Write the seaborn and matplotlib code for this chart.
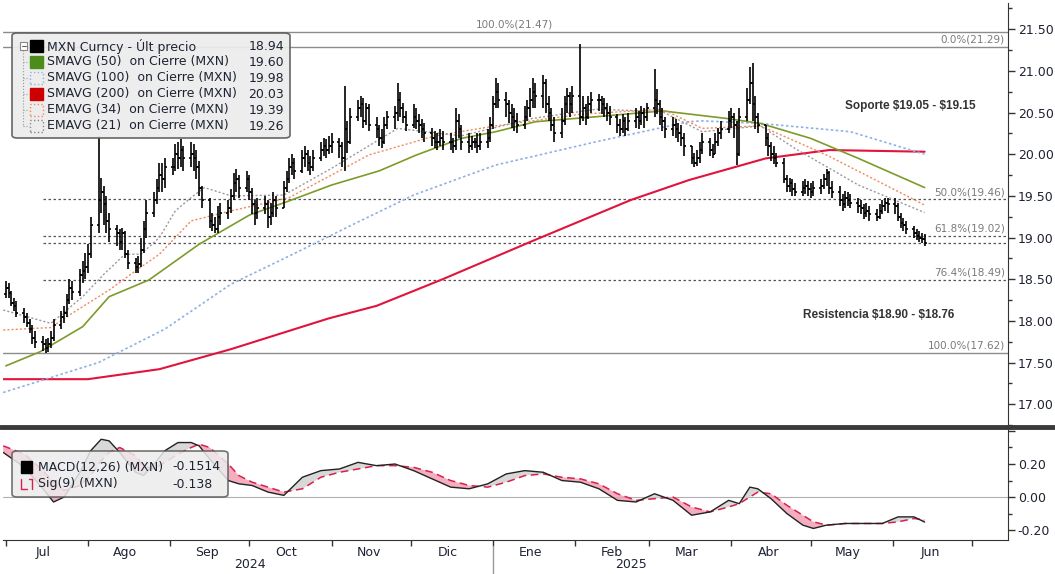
import numpy as np
import pandas as pd
import matplotlib
matplotlib.use("Agg")
import matplotlib.pyplot as plt
import matplotlib.dates as mdates
import matplotlib.transforms as mtransforms
from matplotlib.patches import FancyBboxPatch, Rectangle
from matplotlib.lines import Line2D
import seaborn as sns

# ---------------- datos ----------------
# USD/MXN diario, 1-jul-2024 a 13-jun-2025 (dias habiles)
first_open = 18.32
closes = [
    18.40, 18.33, 18.22, 18.18, 18.10,  18.05, 17.98, 17.90, 17.80, 17.75,
    17.72, 17.68, 17.72, 17.80, 17.95,  18.05, 18.10, 18.25, 18.40, 18.35,
    18.55, 18.60, 18.65, 18.80, 19.15,  19.45, 19.55, 19.40, 19.20, 19.10,
    19.05, 18.95, 19.05, 18.80, 18.70,  18.65, 18.68, 18.85, 19.10, 19.30,
    19.45, 19.60, 19.75, 19.70, 19.85,  19.85, 20.00, 19.95, 20.05, 19.95,
    20.00, 19.95, 19.85, 19.60, 19.45,  19.20, 19.15, 19.10, 19.25, 19.30,
    19.35, 19.50, 19.65, 19.70, 19.60,  19.70, 19.55, 19.40, 19.30, 19.35,
    19.40, 19.25, 19.30, 19.45, 19.35,  19.60, 19.70, 19.85, 19.90, 19.80,
    19.95, 20.00, 19.90, 19.85, 19.95,  20.05, 20.10, 20.05, 20.10, 20.15,
    20.10, 19.95, 20.30, 20.15, 20.45,  20.55, 20.60, 20.40, 20.55, 20.35,
    20.30, 20.20, 20.15, 20.35, 20.45,  20.50, 20.65, 20.55, 20.45, 20.35,
    20.45, 20.40, 20.35, 20.30, 20.25,  20.20, 20.15, 20.15, 20.20, 20.15,
    20.15, 20.10, 20.40, 20.30, 20.15,  20.10, 20.15, 20.15, 20.10, 20.15,
    20.20, 20.35, 20.60, 20.75, 20.65,  20.60, 20.50, 20.45, 20.40, 20.35,
    20.45, 20.55, 20.65, 20.75, 20.70,  20.85, 20.60, 20.50, 20.35, 20.25,
    20.40, 20.60, 20.70, 20.60, 20.70,  20.45, 20.55, 20.45, 20.60, 20.65,
    20.65, 20.60, 20.55, 20.50, 20.45,  20.35, 20.30, 20.40, 20.30, 20.40,
    20.45, 20.40, 20.50, 20.45, 20.55,  20.65, 20.60, 20.45, 20.40, 20.30,
    20.35, 20.30, 20.25, 20.20, 20.10,  19.95, 19.90, 19.95, 20.05, 20.15,
    20.05, 20.00, 20.15, 20.25, 20.30,  20.40, 20.45, 20.35, 20.00, 20.45,
    20.65, 20.85, 20.60, 20.45, 20.35,  20.20, 20.10, 20.00, 19.95, 19.90,
    19.70, 19.62, 19.65, 19.58, 19.55,  19.60, 19.62, 19.58, 19.55, 19.60,
    19.62, 19.70, 19.78, 19.60, 19.55,  19.45, 19.40, 19.48, 19.45, 19.42,
    19.38, 19.35, 19.30, 19.32, 19.28,  19.25, 19.32, 19.38, 19.42, 19.40,
    19.38, 19.25, 19.18, 19.15, 19.10,  19.05, 19.02, 19.00, 18.98, 18.94,
]
highs = [
    18.48, 18.45, 18.36, 18.27, 18.24,  18.15, 18.10, 18.02, 17.95, 17.88,
    17.82, 17.78, 17.80, 17.88, 18.02,  18.12, 18.18, 18.32, 18.50, 18.48,
    18.62, 18.72, 18.82, 18.92, 19.25,  20.22, 19.72, 19.62, 19.50, 19.30,
    19.15, 19.10, 19.12, 19.08, 18.85,  18.75, 18.78, 19.00, 19.20, 19.45,
    19.55, 19.70, 19.90, 19.90, 19.95,  19.95, 20.12, 20.15, 20.18, 20.10,
    20.15, 20.12, 20.05, 19.92, 19.62,  19.48, 19.30, 19.25, 19.38, 19.42,
    19.45, 19.58, 19.78, 19.82, 19.75,  19.80, 19.75, 19.60, 19.45, 19.48,
    19.50, 19.45, 19.42, 19.55, 19.50,  19.68, 19.80, 19.95, 20.00, 19.95,
    20.05, 20.10, 20.05, 19.98, 20.05,  20.15, 20.20, 20.18, 20.22, 20.25,
    20.20, 20.15, 20.82, 20.40, 20.55,  20.65, 20.70, 20.68, 20.62, 20.60,
    20.45, 20.35, 20.30, 20.45, 20.52,  20.58, 20.85, 20.75, 20.62, 20.52,
    20.60, 20.55, 20.48, 20.42, 20.38,  20.32, 20.28, 20.25, 20.30, 20.28,
    20.25, 20.20, 20.55, 20.48, 20.35,  20.25, 20.22, 20.20, 20.25, 20.25,
    20.30, 20.45, 20.70, 20.92, 20.85,  20.75, 20.65, 20.60, 20.55, 20.50,
    20.58, 20.65, 20.80, 20.92, 20.85,  20.95, 20.90, 20.70, 20.55, 20.45,
    20.55, 20.70, 20.80, 20.75, 20.82,  21.32, 20.70, 20.60, 20.70, 20.75,
    20.72, 20.70, 20.68, 20.62, 20.58,  20.48, 20.42, 20.48, 20.45, 20.50,
    20.55, 20.52, 20.58, 20.56, 20.62,  21.02, 20.78, 20.65, 20.55, 20.45,
    20.45, 20.42, 20.38, 20.35, 20.25,  20.10, 20.02, 20.05, 20.15, 20.25,
    20.20, 20.12, 20.25, 20.32, 20.40,  20.52, 20.55, 20.50, 20.40, 20.55,
    20.80, 21.05, 21.10, 20.70, 20.50,  20.35, 20.25, 20.15, 20.10, 20.02,
    19.95, 19.75, 19.72, 19.70, 19.65,  19.68, 19.70, 19.68, 19.65, 19.68,
    19.70, 19.76, 19.82, 19.80, 19.68,  19.62, 19.52, 19.56, 19.55, 19.52,
    19.48, 19.45, 19.40, 19.42, 19.38,  19.34, 19.40, 19.45, 19.48, 19.47,
    19.47, 19.42, 19.30, 19.24, 19.20,  19.14, 19.10, 19.08, 19.06, 19.04,
]
lows = [
    18.28, 18.27, 18.18, 18.12, 18.05,  17.98, 17.93, 17.85, 17.72, 17.68,
    17.64, 17.62, 17.63, 17.68, 17.76,  17.90, 17.98, 18.05, 18.20, 18.25,
    18.30, 18.45, 18.50, 18.58, 18.75,  19.05, 19.30, 19.15, 19.05, 18.95,
    18.90, 18.85, 18.85, 18.75, 18.62,  18.58, 18.58, 18.65, 18.82, 19.00,
    19.25, 19.40, 19.55, 19.55, 19.60,  19.75, 19.80, 19.82, 19.85, 19.80,
    19.85, 19.80, 19.70, 19.50, 19.35,  19.12, 19.08, 19.05, 19.05, 19.15,
    19.22, 19.30, 19.45, 19.55, 19.48,  19.55, 19.45, 19.28, 19.15, 19.22,
    19.28, 19.12, 19.15, 19.25, 19.25,  19.35, 19.55, 19.65, 19.75, 19.70,
    19.78, 19.85, 19.80, 19.75, 19.80,  19.92, 19.98, 19.95, 20.00, 20.02,
    19.95, 19.85, 19.80, 20.02, 20.12,  20.40, 20.45, 20.32, 20.35, 20.28,
    20.20, 20.10, 20.08, 20.12, 20.30,  20.30, 20.40, 20.45, 20.38, 20.28,
    20.32, 20.30, 20.25, 20.20, 20.15,  20.10, 20.08, 20.05, 20.10, 20.05,
    20.05, 20.02, 20.05, 20.20, 20.05,  20.02, 20.05, 20.08, 20.02, 20.05,
    20.08, 20.15, 20.30, 20.55, 20.55,  20.45, 20.38, 20.32, 20.28, 20.25,
    20.30, 20.40, 20.45, 20.55, 20.55,  20.55, 20.50, 20.40, 20.28, 20.15,
    20.20, 20.35, 20.50, 20.45, 20.50,  20.35, 20.40, 20.35, 20.42, 20.50,
    20.52, 20.48, 20.45, 20.40, 20.35,  20.25, 20.22, 20.25, 20.22, 20.28,
    20.32, 20.30, 20.35, 20.32, 20.40,  20.45, 20.48, 20.35, 20.28, 20.20,
    20.22, 20.20, 20.15, 20.10, 19.98,  19.88, 19.85, 19.86, 19.90, 20.00,
    19.98, 19.95, 20.00, 20.10, 20.18,  20.25, 20.32, 20.20, 19.87, 19.98,
    20.40, 20.60, 20.40, 20.30, 20.25,  20.10, 19.98, 19.92, 19.88, 19.85,
    19.65, 19.55, 19.55, 19.50, 19.50,  19.50, 19.52, 19.50, 19.48, 19.50,
    19.52, 19.58, 19.62, 19.52, 19.48,  19.38, 19.32, 19.36, 19.38, 19.35,
    19.30, 19.28, 19.22, 19.25, 19.20,  19.20, 19.22, 19.28, 19.32, 19.30,
    19.28, 19.20, 19.12, 19.08, 19.04,  18.99, 18.97, 18.95, 18.93, 18.90,
]

sma50_dates = ["2024-07-01", "2024-07-14", "2024-07-30", "2024-08-09", "2024-08-18", "2024-08-24",
               "2024-09-12", "2024-10-01", "2024-10-16", "2024-11-01", "2024-11-19", "2024-12-03",
               "2024-12-20", "2025-01-02", "2025-01-17", "2025-02-09", "2025-03-06", "2025-03-30",
               "2025-04-12", "2025-05-01", "2025-05-19", "2025-06-13"]
sma50 = [17.46, 17.63, 17.93, 18.29, 18.41, 18.49, 18.92, 19.27, 19.44, 19.63, 19.80, 19.99,
         20.19, 20.27, 20.39, 20.45, 20.52, 20.43, 20.37, 20.19, 19.95, 19.60]

sma100_dates = ["2024-06-30", "2024-08-05", "2024-08-30", "2024-09-24", "2024-10-20", "2024-11-08",
                "2024-12-02", "2025-01-02", "2025-02-09", "2025-03-16", "2025-03-21", "2025-04-12",
                "2025-05-16", "2025-06-13"]
sma100 = [17.14, 17.50, 17.90, 18.44, 18.84, 19.14, 19.51, 19.87, 20.15, 20.39, 20.40, 20.37,
          20.27, 20.00]

sma200_dates = ["2024-06-30", "2024-08-01", "2024-08-28", "2024-09-24", "2024-10-14", "2024-10-31",
                "2024-11-18", "2024-12-13", "2025-01-16", "2025-02-22", "2025-03-16", "2025-04-14",
                "2025-05-08", "2025-06-13"]
sma200 = [17.30, 17.30, 17.42, 17.66, 17.86, 18.03, 18.18, 18.50, 18.96, 19.45, 19.69, 19.95,
          20.05, 20.03]

ema34_dates = ["2024-06-30", "2024-07-18", "2024-07-26", "2024-08-09", "2024-08-19", "2024-08-28",
               "2024-09-09", "2024-09-24", "2024-10-08", "2024-10-16", "2024-11-01", "2024-11-15",
               "2024-12-10", "2025-01-02", "2025-02-03", "2025-03-06", "2025-03-21", "2025-04-12",
               "2025-05-07", "2025-06-13"]
ema34 = [17.89, 17.92, 18.09, 18.37, 18.60, 18.80, 19.20, 19.32, 19.42, 19.48, 19.75, 19.99,
         20.22, 20.34, 20.48, 20.54, 20.31, 20.34, 19.99, 19.39]

ema21_dates = ["2024-06-30", "2024-07-18", "2024-07-30", "2024-08-07", "2024-08-15", "2024-08-21",
               "2024-08-28", "2024-09-03", "2024-09-09", "2024-09-14", "2024-09-24", "2024-10-14",
               "2024-11-01", "2024-11-26", "2024-12-20", "2025-01-16", "2025-02-09", "2025-03-06",
               "2025-03-21", "2025-04-12", "2025-04-25", "2025-05-19", "2025-06-13"]
ema21 = [18.13, 17.97, 18.29, 18.56, 18.80, 18.80, 19.00, 19.32, 19.48, 19.60, 19.50, 19.51,
         19.83, 20.31, 20.22, 20.43, 20.54, 20.51, 20.27, 20.34, 20.07, 19.63, 19.30]

# MACD(12,26) y senal(9)
macd_dates = ["2024-06-30", "2024-07-08", "2024-07-15", "2024-07-19", "2024-07-23", "2024-07-29",
              "2024-08-02", "2024-08-06", "2024-08-09", "2024-08-13", "2024-08-19", "2024-08-22",
              "2024-08-26", "2024-08-30", "2024-09-04", "2024-09-09", "2024-09-12", "2024-09-16",
              "2024-09-23", "2024-09-27", "2024-10-02", "2024-10-08", "2024-10-14", "2024-10-21",
              "2024-10-28", "2024-11-04", "2024-11-11", "2024-11-18", "2024-11-25", "2024-12-02",
              "2024-12-09", "2024-12-16", "2024-12-23", "2024-12-30", "2025-01-06", "2025-01-13",
              "2025-01-20", "2025-01-27", "2025-02-03", "2025-02-10", "2025-02-17", "2025-02-24",
              "2025-03-03", "2025-03-10", "2025-03-17", "2025-03-24", "2025-03-31", "2025-04-04",
              "2025-04-08", "2025-04-11", "2025-04-16", "2025-04-22", "2025-04-28", "2025-05-02",
              "2025-05-07", "2025-05-14", "2025-05-21", "2025-05-28", "2025-06-03", "2025-06-09",
              "2025-06-13"]
macd = [0.27, 0.18, 0.05, -0.03, 0.00, 0.15, 0.28, 0.35, 0.34, 0.27, 0.15, 0.13,
        0.20, 0.28, 0.33, 0.33, 0.31, 0.23, 0.10, 0.08, 0.07, 0.03, 0.01, 0.12,
        0.16, 0.17, 0.21, 0.19, 0.20, 0.16, 0.11, 0.06, 0.05, 0.08, 0.14, 0.16,
        0.15, 0.10, 0.09, 0.05, -0.02, -0.03, 0.02, -0.02, -0.11, -0.09, -0.02, -0.04,
        0.06, 0.05, -0.01, -0.10, -0.17, -0.19, -0.17, -0.16, -0.16, -0.16, -0.12, -0.12,
        -0.1514]
macd_signal = [0.31, 0.26, 0.16, 0.09, 0.04, 0.07, 0.13, 0.22, 0.27, 0.30, 0.25, 0.19,
               0.17, 0.21, 0.26, 0.30, 0.32, 0.30, 0.20, 0.13, 0.09, 0.06, 0.03, 0.05,
               0.12, 0.15, 0.17, 0.19, 0.19, 0.18, 0.15, 0.10, 0.07, 0.06, 0.09, 0.13,
               0.14, 0.12, 0.11, 0.08, 0.02, -0.02, -0.01, 0.00, -0.06, -0.09, -0.06, -0.04,
               0.00, 0.03, 0.02, -0.05, -0.11, -0.15, -0.17, -0.16, -0.16, -0.16, -0.15, -0.13,
               -0.138]

# niveles de Fibonacci
fib_solid_levels = [21.47, 21.29, 17.62]
fib_dotted_levels = [19.46, 19.02, 18.49]
last_price = 18.94
fib_start = "2024-07-15"
fib_right_labels = {21.29: "0.0%(21.29)", 19.46: "50.0%(19.46)", 19.02: "61.8%(19.02)",
                    18.49: "76.4%(18.49)", 17.62: "100.0%(17.62)"}
fib_top_label = "100.0%(21.47)"
fib_top_label_date = "2025-01-09"

legend_rows = ["MXN Curncy - Últ precio", "SMAVG (50)  on Cierre (MXN)",
               "SMAVG (100)  on Cierre (MXN)", "SMAVG (200)  on Cierre (MXN)",
               "EMAVG (34)  on Cierre (MXN)", "EMAVG (21)  on Cierre (MXN)"]
legend_values = ["18.94", "19.60", "19.98", "20.03", "19.39", "19.26"]
macd_legend_rows = ["MACD(12,26) (MXN)", "Sig(9) (MXN)"]
macd_legend_values = ["-0.1514", "-0.138"]

meses = {1: "Ene", 2: "Feb", 3: "Mar", 4: "Abr", 5: "May", 6: "Jun",
         7: "Jul", 8: "Ago", 9: "Sep", 10: "Oct", 11: "Nov", 12: "Dic"}

# ---------------- grafica ----------------
sns.set_style("white")
plt.rcParams['font.family'] = ['DejaVu Sans']

W, H = 1055, 574
def fx(x):
    return x / W
def fy(y):
    return 1 - y / H
def box(x0, y0, x1, y1):
    return [fx(x0), fy(y1), (x1 - x0) / W, (y1 - y0) / H]

fig = plt.figure(figsize=(10.55, 5.74), dpi=100)
ax = fig.add_axes(box(3, 3, 1008, 425))
axm = fig.add_axes(box(3, 428, 1008, 540), sharex=ax)

C_SMA50 = "#7d9b2b"
C_SMA100 = "#8fb0e6"
C_SMA200 = "#e0143c"
C_EMA34 = "#f08a60"
C_EMA21 = "#9a9a9a"
TXT = "#1e2333"

dates = pd.bdate_range("2024-07-01", "2025-06-13")
d = mdates.date2num(dates)
opens = [first_open] + closes[:-1]

def dn(lst):
    return mdates.date2num(pd.to_datetime(lst))

x_left = mdates.date2num(pd.Timestamp("2024-06-29 22:00"))
x_right = mdates.date2num(pd.Timestamp("2025-07-14 12:00"))

# lineas de fibonacci
for lv in fib_solid_levels:
    ax.axhline(lv, color="#8c8c8c", lw=1.0, zorder=1)
for lv in fib_dotted_levels + [last_price]:
    ax.hlines(lv, dn([fib_start])[0], x_right, color="#555555", lw=0.9,
              linestyles=(0, (2, 2)), zorder=1)

# medias moviles
sns.lineplot(x=dn(sma200_dates), y=sma200, ax=ax, color=C_SMA200, lw=1.5, zorder=3)
sns.lineplot(x=dn(sma100_dates), y=sma100, ax=ax, color=C_SMA100, lw=1.2, linestyle=(0, (1.5, 1.5)), zorder=3)
sns.lineplot(x=dn(sma50_dates), y=sma50, ax=ax, color=C_SMA50, lw=1.2, zorder=3)
sns.lineplot(x=dn(ema34_dates), y=ema34, ax=ax, color=C_EMA34, lw=1.0, linestyle=(0, (1.5, 1.5)), zorder=3)
sns.lineplot(x=dn(ema21_dates), y=ema21, ax=ax, color=C_EMA21, lw=1.0, linestyle=(0, (1.5, 1.5)), zorder=3)

# barras OHLC
ax.vlines(d, lows, highs, color="black", lw=1.2, zorder=4)
ax.hlines(opens, d - 0.75, d, color="black", lw=1.2, zorder=4)
ax.hlines(closes, d, d + 0.75, color="black", lw=1.2, zorder=4)

ax.set_xlim(x_left, x_right)
ax.set_ylim(16.80, 21.815)

# etiquetas fibonacci
tr = mtransforms.blended_transform_factory(ax.transAxes, ax.transData)
for lv, lab in fib_right_labels.items():
    ax.text(0.997, lv + 0.025, lab, transform=tr, ha="right", va="bottom",
            fontsize=7.5, color="#7a7a7a")
ax.text(dn([fib_top_label_date])[0], 21.47 + 0.025, fib_top_label, ha="center", va="bottom",
        fontsize=7.5, color="#7a7a7a")

ax.text(dn(["2025-05-14"])[0], 20.58, "Soporte $19.05 - $19.15", fontsize=8.5,
        fontweight="bold", color="#333333", va="center", ha="left", parse_math=False,
        family=["Liberation Sans", "DejaVu Sans"])
ax.text(dn(["2025-04-28"])[0], 18.07, "Resistencia $18.90 - $18.76", fontsize=8.5,
        fontweight="bold", color="#333333", va="center", ha="left", parse_math=False,
        family=["Liberation Sans", "DejaVu Sans"])

# ejes precio
ax.yaxis.tick_right()
ax.set_yticks(np.arange(17.0, 21.51, 0.5))
ax.set_yticks(np.arange(16.75, 21.8, 0.25), minor=True)
ax.yaxis.set_major_formatter(plt.FuncFormatter(lambda v, p: f"{v:.2f}"))
ax.tick_params(axis="y", which="major", direction="out", length=5, width=1, color="#333333",
               labelsize=9, labelcolor=TXT, pad=2, right=True, left=False)
ax.tick_params(axis="y", which="minor", direction="out", length=3, width=1, color="#333333",
               right=True, left=False)
ax.tick_params(axis="x", which="both", bottom=False, labelbottom=False)
for s in ["left", "top", "bottom"]:
    ax.spines[s].set_visible(False)
ax.spines["right"].set_color("#333333")
ax.set_xlabel("")
ax.set_ylabel("")

# panel MACD
axm.axhline(0, color="#b0b0b0", lw=0.8, zorder=1)
xm = dn(macd_dates)
m_arr = np.array(macd)
s_arr = np.array(macd_signal)
axm.fill_between(xm, m_arr, s_arr, where=m_arr < s_arr, interpolate=True,
                 color="#f29ab0", alpha=0.8, lw=0, zorder=2)
axm.fill_between(xm, m_arr, s_arr, where=m_arr >= s_arr, interpolate=True,
                 color="#cfcfcf", alpha=0.8, lw=0, zorder=2)
sns.lineplot(x=xm, y=macd_signal, ax=axm, color="#d8204c", lw=1.1, linestyle=(0, (5, 3)), zorder=3)
sns.lineplot(x=xm, y=macd, ax=axm, color="#222222", lw=1.0, zorder=4)
axm.set_ylim(-0.26, 0.418)
axm.set_xlim(x_left, x_right)
axm.yaxis.tick_right()
axm.set_yticks([-0.2, 0.0, 0.2, 0.4])
axm.set_yticklabels(["-0.20", "0.00", "0.20", ""])
axm.set_yticks([-0.1, 0.1, 0.3], minor=True)
axm.tick_params(axis="y", which="major", direction="out", length=5, width=1, color="#333333",
                labelsize=9, labelcolor=TXT, pad=2, right=True, left=False)
axm.tick_params(axis="y", which="minor", direction="out", length=3, width=1, color="#333333",
                right=True, left=False)
axm.xaxis.set_major_locator(mdates.MonthLocator())
axm.xaxis.set_major_formatter(plt.NullFormatter())
axm.xaxis.set_minor_locator(mdates.MonthLocator(bymonthday=15))
axm.xaxis.set_minor_formatter(plt.FuncFormatter(lambda v, p: meses[mdates.num2date(v).month]))
axm.tick_params(axis="x", which="major", direction="out", length=4, width=1, color="#333333",
                bottom=True)
axm.tick_params(axis="x", which="minor", length=0, labelsize=9, labelcolor=TXT, pad=4)
for s in ["left", "top"]:
    axm.spines[s].set_visible(False)
axm.spines["right"].set_color("#333333")
axm.spines["bottom"].set_color("#333333")
axm.set_xlabel("")
axm.set_ylabel("")

# anos y separador
trf = mtransforms.blended_transform_factory(axm.transData, fig.transFigure)
axm.text(dn(["2024-10-01"])[0], fy(565), "2024", transform=trf, ha="center", va="center",
         fontsize=9, color=TXT)
axm.text(dn(["2025-02-22"])[0], fy(565), "2025", transform=trf, ha="center", va="center",
         fontsize=9, color=TXT)
fig.add_artist(Line2D([dn(["2025-01-01"])[0]] * 2, [fy(574), fy(546)], transform=trf,
                      color="#999999", lw=1))
fig.add_artist(Line2D([0, 1], [fy(426.5), fy(426.5)], transform=fig.transFigure,
                      color="#3a3a3a", lw=3.5))

# leyenda precio
fig.add_artist(FancyBboxPatch((fx(12), fy(138)), (290 - 12) / W, (138 - 33) / H,
                              boxstyle="round,pad=0,rounding_size=0.005",
                              transform=fig.transFigure, fc="#ececec", ec="#5a5a5a",
                              lw=1.2, alpha=0.92, zorder=10))
row_y = [46, 62, 78, 94, 110, 126]
sw_face = ["#000000", "#4b8c1a", "none", "#cc0000", "none", "none"]
sw_edge = ["#000000", "#4b8c1a", C_SMA100, "#cc0000", C_EMA34, "#888888"]
sw_ls = ["-", "-", ":", "-", ":", ":"]
fig.add_artist(Line2D([fx(23), fx(23)], [fy(50), fy(126)], transform=fig.transFigure,
                      color="#999999", lw=0.8, ls=":", zorder=11))
fig.add_artist(Rectangle((fx(20), fy(49.5)), 7 / W, 7 / H, transform=fig.transFigure,
                         fc="white", ec="#888888", lw=0.8, zorder=11))
fig.add_artist(Line2D([fx(21.5), fx(25.5)], [fy(46), fy(46)], transform=fig.transFigure,
                      color="#666666", lw=0.8, zorder=12))
for i, yy in enumerate(row_y):
    if i > 0:
        fig.add_artist(Line2D([fx(23), fx(29)], [fy(yy), fy(yy)], transform=fig.transFigure,
                              color="#999999", lw=0.8, ls=":", zorder=11))
    fig.add_artist(Rectangle((fx(30), fy(yy + 6)), 13 / W, 12 / H, transform=fig.transFigure,
                             fc=sw_face[i], ec=sw_edge[i], lw=1.0, ls=sw_ls[i], zorder=11))
    fig.text(fx(47), fy(yy), legend_rows[i], fontsize=9, color=TXT, va="center", ha="left",
             zorder=12)
    fig.text(fx(284), fy(yy), legend_values[i], fontsize=9, color=TXT, va="center",
             ha="right", zorder=12)

# leyenda MACD
fig.add_artist(FancyBboxPatch((fx(12), fy(497)), (228 - 12) / W, (497 - 451) / H,
                              boxstyle="round,pad=0,rounding_size=0.005",
                              transform=fig.transFigure, fc="#ececec", ec="#5a5a5a",
                              lw=1.2, alpha=0.85, zorder=10))
fig.add_artist(Rectangle((fx(21), fy(473)), 11 / W, 12 / H, transform=fig.transFigure,
                         fc="#000000", ec="#000000", lw=1, zorder=11))
fig.add_artist(Line2D([fx(21), fx(21), fx(27)], [fy(479), fy(489), fy(489)],
                      transform=fig.transFigure, color="#d8204c", lw=1, zorder=11))
fig.add_artist(Line2D([fx(29), fx(32), fx(32)], [fy(479), fy(479), fy(489)],
                      transform=fig.transFigure, color="#d8204c", lw=1, zorder=11))
for i, yy in enumerate([467, 484]):
    fig.text(fx(38), fy(yy), macd_legend_rows[i], fontsize=9, color=TXT, va="center",
             ha="left", zorder=12)
    fig.text(fx(172), fy(yy), macd_legend_values[i], fontsize=9, color=TXT, va="center",
             ha="left", zorder=12)

plt.savefig("out.png", dpi=100)
